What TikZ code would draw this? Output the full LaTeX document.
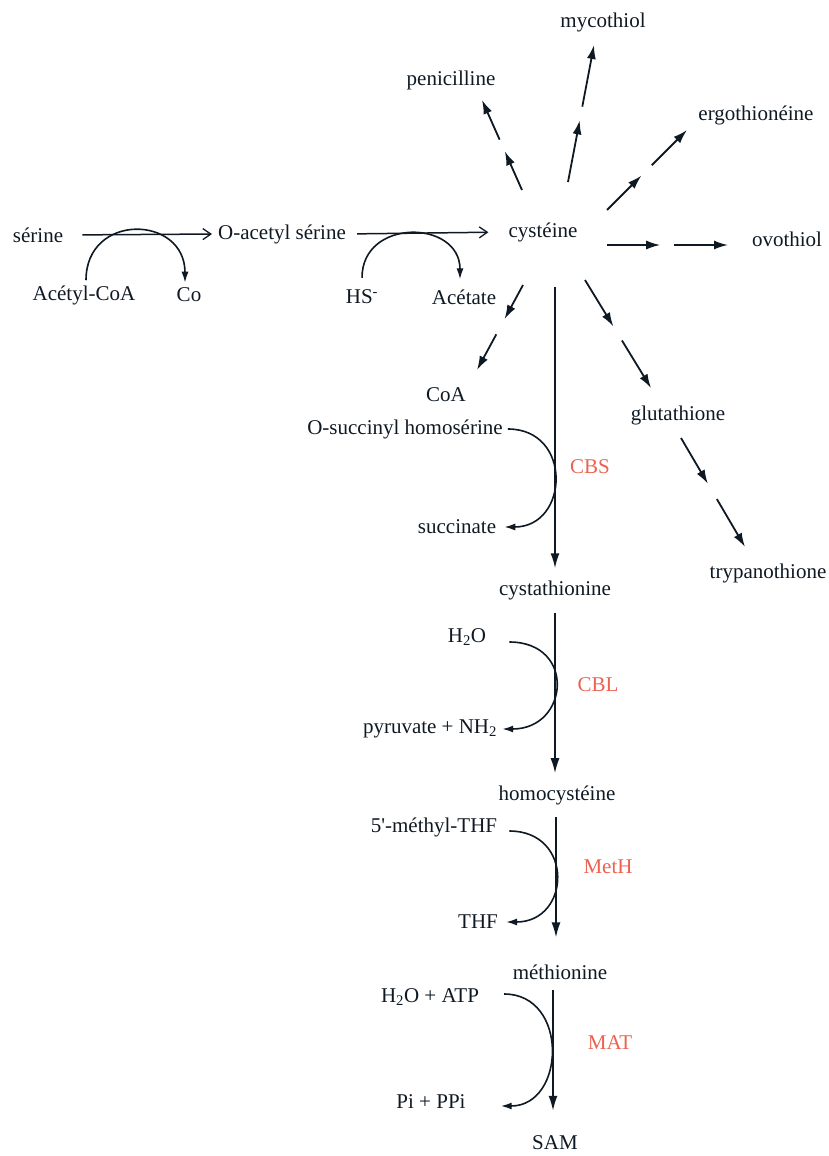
\documentclass[tikz,border=0pt]{standalone}
\usepackage{fontspec}
\setmainfont{Liberation Serif}
\usetikzlibrary{arrows.meta,calc}

\definecolor{ink}{RGB}{15,25,35}
\definecolor{enzyme}{RGB}{236,98,82}

\begin{document}
\begin{tikzpicture}[x=1pt,y=-1pt]
\tikzset{mol/.style={inner sep=0pt,text=ink,font=\fontsize{21}{25}\selectfont}}
\tikzset{enz/.style={mol,text=enzyme}}
\tikzset{mainarr/.style={draw=ink,line width=1.7pt,-{Latex[length=15pt,width=9pt]}}}
\tikzset{brarr/.style={draw=ink,line width=1.8pt,-{Latex[length=14pt,width=9pt]}}}
\tikzset{sidearr/.style={draw=ink,line width=1.6pt,-{Latex[length=11pt,width=7pt]}}}
\tikzset{openarr/.style={draw=ink,line width=1.5pt,-{Straight Barb[length=8pt,width=11pt,line width=1.3pt]}}}
	\useasboundingbox (0,0) rectangle (828,1156);
	% top row
	\node[mol] (serine) at (38,235) {sérine};
	\node[mol] (oacetyl) at (282,234) {O-acetyl sérine};
	\node[mol] (cys) at (543,232) {cystéine};
	\node[mol] (acetylcoa) at (84,295) {Acétyl-CoA};
	\node[mol] (co) at (189,295) {Co};
	\node[mol] (hs) at (362,297) {HS\textsuperscript{-}};
	\node[mol] (acetate) at (464,297) {Acétate};
		\path[openarr,shorten <=19pt,shorten >=6pt] (serine.east) -- (oacetyl.west);
		\path[openarr,shorten <=11pt,shorten >=20pt] (oacetyl.east) -- (cys.west);
		\path[sidearr] ([xshift=2pt,yshift=5pt]acetylcoa.north) .. controls +(0,-68) and +(0,-68) .. ([xshift=-4pt,yshift=5pt]co.north);
		\path[sidearr] ([yshift=12pt]hs.north) .. controls +(0,-60) and +(0,-60) .. ([xshift=-4pt,yshift=10pt]acetate.north);
	% products of cysteine
	\node[mol] (peni) at (451,80) {penicilline};
	\node[mol] (myco) at (603,22) {mycothiol};
	\node[mol] (ergo) at (756,115) {ergothionéine};
	\node[mol] (ovo) at (787,239) {ovothiol};
	\node[mol] (coa) at (446,395) {CoA};
	\node[mol] (glut) at (678,415) {glutathione};
	\node[mol] (trypa) at (768,573) {trypanothione};
	\coordinate (peni-a) at (522,190); \coordinate (peni-b) at (482,100);
	\coordinate (myco-a) at (568,182); \coordinate (myco-b) at (594,45);
	\coordinate (ergo-a) at (607,210); \coordinate (ergo-b) at (687,130);
	\coordinate (ovo-a) at (607,245); \coordinate (ovo-b) at (728,245);
	\coordinate (coa-a) at (523,285); \coordinate (coa-b) at (477,370);
	\coordinate (glut-a) at (585,280); \coordinate (glut-b) at (651,388);
	\coordinate (trypa-a) at (681,438); \coordinate (trypa-b) at (745,547);
		\path[brarr] (peni-a) -- ($(peni-a)!0.43!(peni-b)$);
		\path[brarr] ($(peni-a)!0.56!(peni-b)$) -- (peni-b);
		\path[brarr] (myco-a) -- ($(myco-a)!0.45!(myco-b)$);
		\path[brarr] ($(myco-a)!0.55!(myco-b)$) -- (myco-b);
		\path[brarr] (ergo-a) -- ($(ergo-a)!0.43!(ergo-b)$);
		\path[brarr] ($(ergo-a)!0.56!(ergo-b)$) -- (ergo-b);
		\path[brarr] (ovo-a) -- ($(ovo-a)!0.44!(ovo-b)$);
		\path[brarr] ($(ovo-a)!0.55!(ovo-b)$) -- (ovo-b);
		\path[brarr] (coa-a) -- ($(coa-a)!0.40!(coa-b)$);
		\path[brarr] ($(coa-a)!0.58!(coa-b)$) -- (coa-b);
		\path[brarr] (glut-a) -- ($(glut-a)!0.43!(glut-b)$);
		\path[brarr] ($(glut-a)!0.56!(glut-b)$) -- (glut-b);
		\path[brarr] (trypa-a) -- ($(trypa-a)!0.42!(trypa-b)$);
		\path[brarr] ($(trypa-a)!0.56!(trypa-b)$) -- (trypa-b);
	% methionine branch
	\node[mol] (cysta) at (555,590) {cystathionine};
	\node[mol] (homocys) at (557,795) {homocystéine};
	\node[mol] (methionine) at (560,972) {méthionine};
	\node[mol] (sam) at (555,1143) {SAM};
	\node[mol] (osuc) at (405,429) {O-succinyl homosérine};
	\node[mol] (succ) at (457,527) {succinate};
	\node[mol] (h2o) at (467,637) {H\textsubscript{2}O};
	\node[mol] (pyr) at (430,729) {pyruvate + NH\textsubscript{2}};
	\node[mol] (methylthf) at (434,827) {5\textquotesingle-méthyl-THF};
	\node[mol] (thf) at (478,922) {THF};
	\node[mol] (h2oatp) at (430,997) {H\textsubscript{2}O + ATP};
	\node[mol] (pi) at (431,1102) {Pi + PPi};
	\node[enz] (cbs) at (590,467) {CBS};
	\node[enz] (cbl) at (598,685) {CBL};
	\node[enz] (meth) at (608,867) {MetH};
	\node[enz] (mat) at (610,1043) {MAT};
		\path[mainarr,shorten <=45pt,shorten >=12pt] (cys.south -| cysta) -- (cysta.north);
		\path[mainarr,shorten <=13pt,shorten >=12pt] (cysta.south) -- (cysta.south |- homocys.north);
		\path[mainarr,shorten <=12pt,shorten >=27pt] ([xshift=-1pt]homocys.south) -- ([xshift=-1pt]homocys.south |- methionine.north);
		\path[mainarr,shorten <=10pt,shorten >=25pt] ([xshift=-7pt]methionine.south) -- ([xshift=-7pt]methionine.south |- sam.north);
		\path[sidearr] ([xshift=5pt]osuc.east) .. controls +(65,0) and +(65,0) .. ([xshift=8pt]succ.east);
		\path[sidearr] ([xshift=23pt,yshift=-5pt]h2o.east) .. controls +(67,0) and +(67,0) .. ([xshift=5pt]pyr.east);
		\path[sidearr] ([xshift=12pt,yshift=-4pt]methylthf.east) .. controls +(65,0) and +(65,0) .. ([xshift=8pt]thf.east);
		\path[sidearr] ([xshift=25pt,yshift=3pt]h2oatp.east) .. controls +(65,0) and +(65,0) .. ([xshift=35pt,yshift=-4pt]pi.east);
\end{tikzpicture}
\end{document}
